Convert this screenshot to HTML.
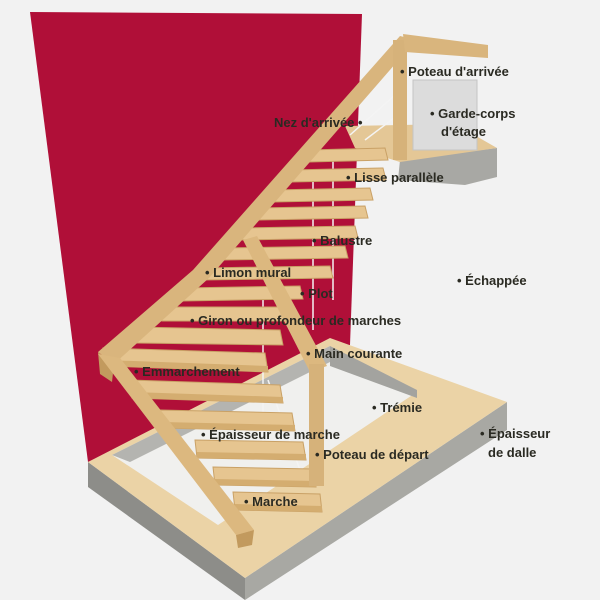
<!DOCTYPE html>
<html><head><meta charset="utf-8"><style>
html,body{margin:0;padding:0;background:#f2f2f2;}
svg{display:block}
text{font-family:"Liberation Sans",sans-serif;font-size:13px;fill:#2a2a22;font-weight:bold}
</style></head><body>
<svg width="600" height="600" viewBox="0 0 600 600">
<rect width="600" height="600" fill="#f2f2f2"/>
<!-- wall -->
<polygon points="30,12 362,14 350,345 88,462" fill="#b00f38"/>
<!-- slab sides -->
<polygon points="88,462 245,578 245,600 88,487" fill="#8d8d89"/>
<polygon points="245,578 507,402 507,430 245,600" fill="#a8a8a3"/>
<!-- slab top -->
<polygon points="88,462 245,578 507,402 330,338" fill="#ebd3a6"/>
<!-- hole -->
<polygon points="112,455 218,525 417,392 330,356 330,346" fill="#f0f0ee"/>
<polygon points="112,455 330,346 330,362 130,462" fill="#b4b4b0"/>
<polygon points="330,346 417,390 417,398 330,366" fill="#a3a39f"/>
<!-- upper landing -->
<polygon points="400,160 497,148 497,177 465,185 398,180" fill="#a8a8a4"/>
<polygon points="345,126 455,124 497,148 400,162 355,148" fill="#e4c796"/>
<rect x="413" y="80" width="64" height="70" fill="#dcdcdc" stroke="#c4c4c4"/>
<!-- balusters -->
<g stroke="#f4f4f4" stroke-width="1.5">
<line x1="333" y1="152" x2="333" y2="300"/><line x1="313" y1="170" x2="313" y2="330"/>
<line x1="263" y1="300" x2="263" y2="450"/><line x1="268" y1="380" x2="300" y2="470"/>
<line x1="350" y1="135" x2="395" y2="95"/><line x1="365" y1="140" x2="398" y2="115"/>
</g>
<!-- treads: top face + front face -->
<g fill="#e6c590" stroke="#c9a166" stroke-width="1">
<polygon points="307,150 385,148 388,160 309,162"/>
<polygon points="289,170 383,168 386,180 291,182"/>
<polygon points="271,190 370,188 373,200 273,202"/>
<polygon points="256,208 365,206 368,218 258,220"/>
<polygon points="238,228 355,226 358,238 240,240"/>
<polygon points="220,248 345,246 348,258 222,260"/>
<polygon points="200,268 330,266 333,278 202,280"/>
<polygon points="180,288 300,286 303,299 182,301"/>
<polygon points="160,307 285,307 288,321 162,321"/>
<polygon points="135,327 280,330 283,345 137,343"/>
<polygon points="103,348 265,353 268,372 105,366"/>
<polygon points="130,380 280,385 283,403 132,398"/>
<polygon points="160,410 292,413 295,431 162,428"/>
<polygon points="195,440 303,442 306,460 197,458"/>
<polygon points="213,467 313,469 316,487 215,485"/>
<polygon points="233,492 320,494 322,512 235,510"/>
</g>
<g fill="#d4ad70">
<polygon points="105,360 268,366 268,372 105,366"/>
<polygon points="132,392 283,397 283,403 132,398"/>
<polygon points="162,422 295,425 295,431 162,428"/>
<polygon points="197,452 306,454 306,460 197,458"/>
<polygon points="215,479 316,481 316,487 215,485"/>
<polygon points="235,504 322,506 322,512 235,510"/>
</g>
<!-- wall stringer / handrail -->
<polygon points="400,36 416,40 209,278 114,364 98,352 193,270" fill="#d9b57d"/>
<polygon points="98,352 114,364 112,382 100,374" fill="#c29a5e"/>
<!-- lower outer stringer -->
<polygon points="98,354 120,358 254,530 236,535" fill="#dcb87f"/>
<polygon points="236,535 254,530 252,545 238,548" fill="#c29a5e"/>
<!-- mid stringer to post -->
<polygon points="243,240 257,236 327,366 310,372" fill="#dcb87f"/>
<!-- posts -->
<rect x="309" y="364" width="15" height="122" fill="#d6b27a"/>
<rect x="393" y="40" width="14" height="120" fill="#d6b27a"/>
<polygon points="403,34 488,45 488,58 405,52" fill="#d9b57d"/>
<!-- labels -->
<g>
<text x="400" y="76">• Poteau d'arrivée</text>
<text x="274" y="127">Nez d'arrivée •</text>
<text x="430" y="118">• Garde-corps</text>
<text x="441" y="136">d'étage</text>
<text x="346" y="182">• Lisse parallèle</text>
<text x="312" y="245">• Balustre</text>
<text x="205" y="277">• Limon mural</text>
<text x="300" y="298">• Plot</text>
<text x="457" y="285">• Échappée</text>
<text x="190" y="325">• Giron ou profondeur de marches</text>
<text x="306" y="358">• Main courante</text>
<text x="134" y="376">• Emmarchement</text>
<text x="372" y="412">• Trémie</text>
<text x="201" y="439">• Épaisseur de marche</text>
<text x="480" y="438">• Épaisseur</text>
<text x="488" y="457">de dalle</text>
<text x="315" y="459">• Poteau de départ</text>
<text x="244" y="506">• Marche</text>
</g>
</svg>
</body></html>
